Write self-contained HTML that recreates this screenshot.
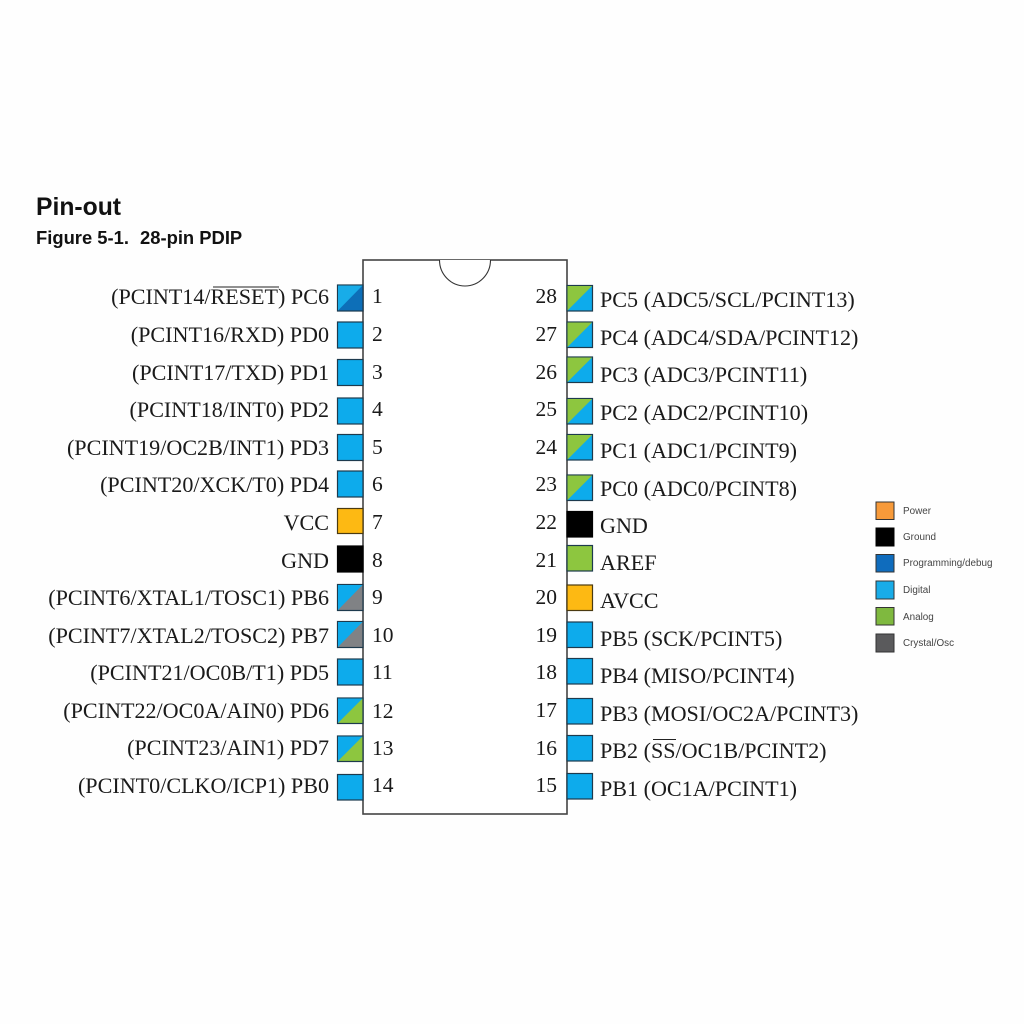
<!DOCTYPE html>
<html><head><meta charset="utf-8"><style>html,body{margin:0;padding:0;background:#fff}svg{display:block;filter:blur(0.3px)}</style></head><body>
<svg xmlns="http://www.w3.org/2000/svg" width="1024" height="1024" viewBox="0 0 1024 1024">
<rect width="1024" height="1024" fill="#fefefe"/>
<g font-family="'Liberation Sans',sans-serif" font-weight="bold" fill="#111">
<text x="36" y="215" font-size="24.7">Pin-out</text>
<text x="36" y="244" font-size="18.4">Figure 5-1.</text>
<text x="140" y="244" font-size="18.4">28-pin PDIP</text>
</g>
<!-- chip -->
<rect x="363" y="260" width="204" height="554" fill="#fff" stroke="#444" stroke-width="1.6"/>
<path d="M439.500 260 A25.500 26 0 0 0 490.500 260" fill="#fff" stroke="#333" stroke-width="1.1"/>
<!-- left pins -->
<g stroke="#1d3a4d" stroke-width="1.200">
<rect x="337.500" y="285" width="25.500" height="26" fill="#0d6fb8"/><path d="M338 310.500V285.500H362.500Z" fill="#18ace8" stroke="none"/>
<rect x="337.500" y="322" width="25.500" height="26" fill="#0dabec"/>
<rect x="337.500" y="359.500" width="25.500" height="26" fill="#0dabec"/>
<rect x="337.500" y="398" width="25.500" height="26" fill="#0dabec"/>
<rect x="337.500" y="434.500" width="25.500" height="26" fill="#0dabec"/>
<rect x="337.500" y="471" width="25.500" height="26" fill="#0dabec"/>
<rect x="337.500" y="508.500" width="25.500" height="25" fill="#fdb913" stroke="#4a3a10"/>
<rect x="337.500" y="546" width="25.500" height="26" fill="#000" stroke="#000"/>
<rect x="337.500" y="584.500" width="25.500" height="26" fill="#808285"/><path d="M338 610V585H362.500Z" fill="#0dabec" stroke="none"/>
<rect x="337.500" y="621.500" width="25.500" height="26" fill="#808285"/><path d="M338 647V622H362.500Z" fill="#0dabec" stroke="none"/>
<rect x="337.500" y="659" width="25.500" height="26" fill="#0dabec"/>
<rect x="337.500" y="698" width="25.500" height="25.500" fill="#8dc63f"/><path d="M338 723V698.500H362.500Z" fill="#0dabec" stroke="none"/>
<rect x="337.500" y="736" width="25.500" height="25.500" fill="#8dc63f"/><path d="M338 761V736.500H362.500Z" fill="#0dabec" stroke="none"/>
<rect x="337.500" y="774.500" width="25.500" height="25.500" fill="#0dabec"/>
</g>
<!-- right pins -->
<g stroke="#1d3a4d" stroke-width="1.200">
<rect x="567" y="285.500" width="25.500" height="25.500" fill="#0dabec"/><path d="M567.500 310.500V286H592Z" fill="#8dc63f" stroke="none"/>
<rect x="567" y="322" width="25.500" height="25.500" fill="#0dabec"/><path d="M567.500 347V322.500H592Z" fill="#8dc63f" stroke="none"/>
<rect x="567" y="357" width="25.500" height="25.500" fill="#0dabec"/><path d="M567.500 382V357.500H592Z" fill="#8dc63f" stroke="none"/>
<rect x="567" y="398.500" width="25.500" height="25.500" fill="#0dabec"/><path d="M567.500 423.500V399H592Z" fill="#8dc63f" stroke="none"/>
<rect x="567" y="434.500" width="25.500" height="25.500" fill="#0dabec"/><path d="M567.500 459.500V435H592Z" fill="#8dc63f" stroke="none"/>
<rect x="567" y="475" width="25.500" height="25.500" fill="#0dabec"/><path d="M567.500 500V475.500H592Z" fill="#8dc63f" stroke="none"/>
<rect x="567" y="511.500" width="25.500" height="25.500" fill="#000" stroke="#000"/>
<rect x="567" y="545.500" width="25.500" height="25.500" fill="#8dc63f"/>
<rect x="567" y="585" width="25.500" height="25.500" fill="#fdb913" stroke="#4a3a10"/>
<rect x="567" y="622" width="25.500" height="25.500" fill="#0dabec"/>
<rect x="567" y="658.500" width="25.500" height="25.500" fill="#0dabec"/>
<rect x="567" y="698.500" width="25.500" height="25.500" fill="#0dabec"/>
<rect x="567" y="735.500" width="25.500" height="25.500" fill="#0dabec"/>
<rect x="567" y="773.500" width="25.500" height="25.500" fill="#0dabec"/>
</g>
<!-- left labels -->
<g font-family="'Liberation Serif',serif" font-size="22.100" fill="#1a1a1a" text-anchor="end">
<text x="329" y="304">(PCINT14/RESET) PC6</text>
<text x="329" y="342">(PCINT16/RXD) PD0</text>
<text x="329" y="380">(PCINT17/TXD) PD1</text>
<text x="329" y="417">(PCINT18/INT0) PD2</text>
<text x="329" y="455">(PCINT19/OC2B/INT1) PD3</text>
<text x="329" y="492">(PCINT20/XCK/T0) PD4</text>
<text x="329" y="530">VCC</text>
<text x="329" y="568">GND</text>
<text x="329" y="605">(PCINT6/XTAL1/TOSC1) PB6</text>
<text x="329" y="643">(PCINT7/XTAL2/TOSC2) PB7</text>
<text x="329" y="680">(PCINT21/OC0B/T1) PD5</text>
<text x="329" y="718">(PCINT22/OC0A/AIN0) PD6</text>
<text x="329" y="755">(PCINT23/AIN1) PD7</text>
<text x="329" y="793">(PCINT0/CLKO/ICP1) PB0</text>
</g>
<line x1="213" y1="287" x2="279" y2="287" stroke="#222" stroke-width="1"/>
<!-- left numbers -->
<g font-family="'Liberation Serif',serif" font-size="21.500" fill="#1a1a1a">
<text x="372" y="303">1</text><text x="372" y="341">2</text><text x="372" y="379">3</text><text x="372" y="416">4</text>
<text x="372" y="454">5</text><text x="372" y="491">6</text><text x="372" y="529">7</text><text x="372" y="567">8</text>
<text x="372" y="604">9</text><text x="372" y="642">10</text><text x="372" y="679">11</text><text x="372" y="718">12</text>
<text x="372" y="755">13</text><text x="372" y="792">14</text>
</g>
<!-- right numbers -->
<g font-family="'Liberation Serif',serif" font-size="21.500" fill="#1a1a1a" text-anchor="end">
<text x="557" y="303">28</text><text x="557" y="341">27</text><text x="557" y="379">26</text><text x="557" y="416">25</text>
<text x="557" y="454">24</text><text x="557" y="491">23</text><text x="557" y="529">22</text><text x="557" y="567">21</text>
<text x="557" y="604">20</text><text x="557" y="642">19</text><text x="557" y="679">18</text><text x="557" y="717">17</text>
<text x="557" y="755">16</text><text x="557" y="792">15</text>
</g>
<!-- right labels -->
<g font-family="'Liberation Serif',serif" font-size="22.100" fill="#1a1a1a">
<text x="600" y="307">PC5 (ADC5/SCL/PCINT13)</text>
<text x="600" y="345">PC4 (ADC4/SDA/PCINT12)</text>
<text x="600" y="382">PC3 (ADC3/PCINT11)</text>
<text x="600" y="420">PC2 (ADC2/PCINT10)</text>
<text x="600" y="458">PC1 (ADC1/PCINT9)</text>
<text x="600" y="496">PC0 (ADC0/PCINT8)</text>
<text x="600" y="533">GND</text>
<text x="600" y="570">AREF</text>
<text x="600" y="608">AVCC</text>
<text x="600" y="646">PB5 (SCK/PCINT5)</text>
<text x="600" y="683">PB4 (MISO/PCINT4)</text>
<text x="600" y="721">PB3 (MOSI/OC2A/PCINT3)</text>
<text x="600" y="758">PB2 (SS/OC1B/PCINT2)</text>
<text x="600" y="796">PB1 (OC1A/PCINT1)</text>
</g>
<line x1="653" y1="739.500" x2="676" y2="739.500" stroke="#222" stroke-width="1"/>
<!-- legend -->
<g stroke="#333" stroke-width="1">
<rect x="876" y="502" width="18" height="17.500" fill="#f79a3a"/>
<rect x="876" y="528" width="18" height="18" fill="#000" stroke="#000"/>
<rect x="876" y="554.500" width="18" height="17.500" fill="#0f6cbd"/>
<rect x="876" y="581" width="18" height="18" fill="#18ace8"/>
<rect x="876" y="607.500" width="18" height="17.500" fill="#7fb93f"/>
<rect x="876" y="634" width="18" height="18" fill="#5a5a5c"/>
</g>
<g font-family="'Liberation Sans',sans-serif" font-size="9.900" fill="#444">
<text x="903" y="514">Power</text>
<text x="903" y="540">Ground</text>
<text x="903" y="566">Programming/debug</text>
<text x="903" y="593">Digital</text>
<text x="903" y="620">Analog</text>
<text x="903" y="646">Crystal/Osc</text>
</g>
</svg>
</body></html>
